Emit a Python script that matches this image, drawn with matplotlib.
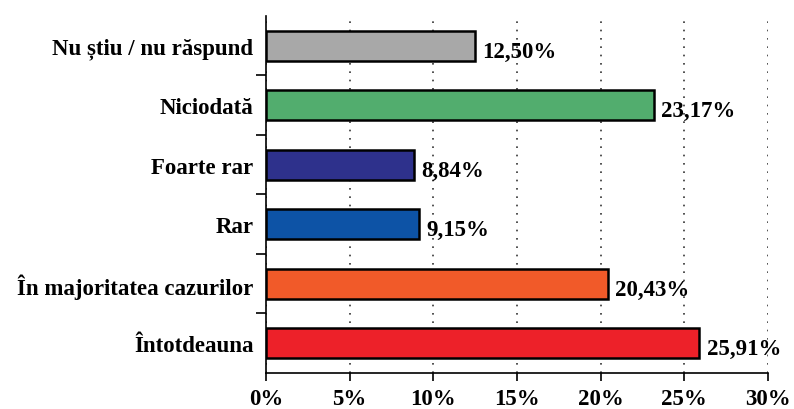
import matplotlib.pyplot as plt
from matplotlib.ticker import FixedLocator

categories = ['Întotdeauna', 'În majoritatea cazurilor', 'Rar', 'Foarte rar',
              'Niciodată', 'Nu știu / nu răspund']
values = [25.91, 20.43, 9.15, 8.84, 23.17, 12.50]
value_labels = ['25,91%', '20,43%', '9,15%', '8,84%', '23,17%', '12,50%']
colors = ['#ED2129', '#F15A29', '#0D53A6', '#2E318C', '#52AD6E', '#A8A8A8']
x_ticks = [0, 5, 10, 15, 20, 25, 30]
x_tick_labels = ['0%', '5%', '10%', '15%', '20%', '25%', '30%']

plt.rcParams['font.family'] = ['Liberation Serif', 'DejaVu Serif']
plt.rcParams['font.weight'] = 'bold'

fig = plt.figure(figsize=(7.94, 4.10), dpi=100)
ax = fig.add_axes([0.335, 0.088, 0.632, 0.8705])

pos = list(range(len(categories)))
ax.barh(pos, values, height=0.5, color=colors, edgecolor='black', linewidth=1.8, zorder=3)

# value labels sit a touch below the bar centre, like the original
for p, v, lab in zip(pos, values, value_labels):
    ax.text(v + 0.45, p - 0.09, lab, va='center', ha='left', fontsize=16.5,
            fontweight='bold', zorder=4)

ax.set_xlim(0, 30)
ax.set_ylim(-0.5, len(categories) - 0.5)
ax.set_xticks(x_ticks)
ax.set_xticklabels(x_tick_labels, fontsize=16.5, fontweight='bold')
ax.set_yticks(pos)
ax.set_yticklabels(categories, fontsize=16.5, fontweight='bold')
ax.tick_params(axis='y', which='major', length=0, pad=9)
ax.yaxis.set_minor_locator(FixedLocator([p + 0.5 for p in pos[:-1]]))
ax.tick_params(axis='y', which='minor', length=7, width=1.2, direction='out')
ax.tick_params(axis='x', length=6, width=1.2, direction='out', pad=5)

ax.grid(axis='x', linestyle=(0, (1, 4)), color='#333333', linewidth=1.2, zorder=0)
ax.spines['top'].set_visible(False)
ax.spines['right'].set_visible(False)
ax.spines['left'].set_linewidth(1.2)
ax.spines['bottom'].set_linewidth(1.2)

plt.savefig('out.png', dpi=100)
